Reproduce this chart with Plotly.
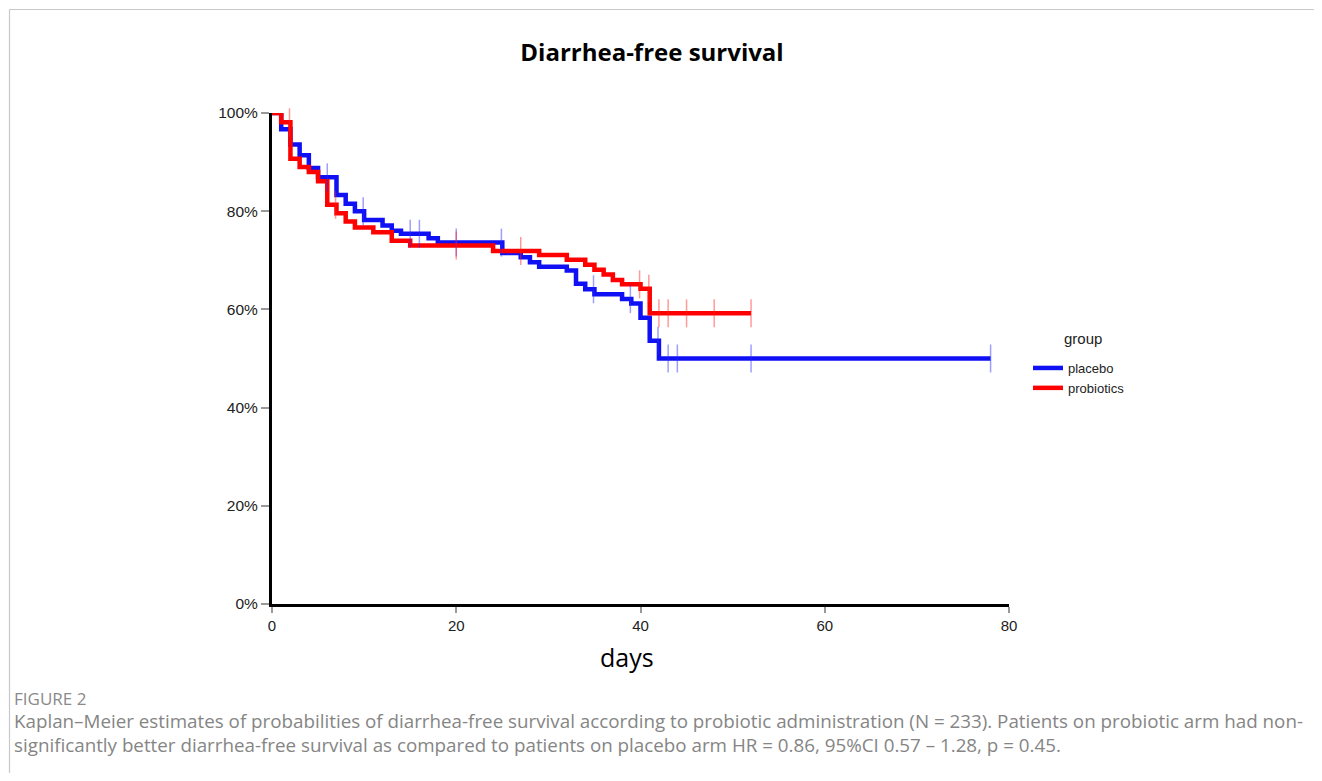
import plotly.graph_objects as go

# ---- data ----
placebo_days = [0, 1, 2, 3, 4, 5, 7, 8, 9, 10, 12, 13, 14, 17, 18, 25, 27, 28, 29,
                32, 33, 34, 35, 38, 39, 40, 41, 42, 78]
placebo_surv = [1.0, 0.967, 0.936, 0.914, 0.888, 0.869, 0.833, 0.815, 0.800, 0.782,
                0.771, 0.760, 0.754, 0.745, 0.736, 0.715, 0.706, 0.696, 0.687, 0.679,
                0.652, 0.641, 0.631, 0.621, 0.612, 0.583, 0.536, 0.500, 0.500]
placebo_censor = [6, 9.9, 15, 16, 20, 24.9, 34.9, 38.9, 41.9, 43, 44, 52, 78]

probiotics_days = [0, 1, 2, 3, 4, 5, 6, 7, 8, 9, 11, 13, 15, 24, 29, 32, 34, 35, 36,
                   37, 38, 40, 41, 52]
probiotics_surv = [1.0, 0.981, 0.907, 0.890, 0.880, 0.861, 0.813, 0.796, 0.779, 0.767,
                   0.757, 0.740, 0.730, 0.719, 0.711, 0.701, 0.691, 0.681, 0.671, 0.660,
                   0.651, 0.642, 0.592, 0.592]
probiotics_censor = [1.9, 6.9, 20, 27, 39.9, 40.9, 42, 43, 45, 48, 52]

x_ticks = [0, 20, 40, 60, 80]
y_ticks = [0, 0.2, 0.4, 0.6, 0.8, 1.0]
y_tick_labels = ["0%", "20%", "40%", "60%", "80%", "100%"]

groups = [
    ("placebo", placebo_days, placebo_surv, placebo_censor, "#1010F5", "rgba(40,40,255,0.45)"),
    ("probiotics", probiotics_days, probiotics_surv, probiotics_censor, "#FF0000", "rgba(255,30,30,0.45)"),
]


def step_value(days, surv, t):
    v = surv[0]
    for d, s in zip(days, surv):
        if d <= t:
            v = s
    return v


fig = go.Figure()
for name, days, surv, cens, col, tcol in groups:
    fig.add_trace(go.Scatter(
        x=days, y=surv, mode="lines", name=name,
        line=dict(color=col, width=4.5, shape="hv"), cliponaxis=False,
    ))
for name, days, surv, cens, col, tcol in groups:
    fig.add_trace(go.Scatter(
        x=cens, y=[step_value(days, surv, t) for t in cens], mode="markers",
        showlegend=False, hoverinfo="skip", cliponaxis=False,
        marker=dict(symbol="line-ns", size=20, line=dict(color=tcol, width=1.5)),
    ))

# page offset of the figure (body margin) and plot area in page pixels
OFF = 8
L, R, T, B = 272 - OFF, 1009 - OFF, 113 - OFF, 604 - OFF
W, H = 1322 - 2 * OFF, 781 - 2 * OFF


def px(xp):
    return (xp - OFF - L) / (R - L)


def py(yp):
    return (B - (yp - OFF)) / (B - T)


caption_font = dict(family="Open Sans", size=18.8, color="#858585")
annotations = [
    dict(text="group", x=px(1083), y=py(338), xref="paper", yref="paper",
         showarrow=False, font=dict(family="Arial", size=15, color="#222"),
         xanchor="center", yanchor="middle"),
    dict(text="days", x=px(627), y=py(657), xref="paper", yref="paper",
         showarrow=False, font=dict(family="Open Sans", size=25, color="black"),
         xanchor="center", yanchor="middle"),
    dict(text="FIGURE 2", x=px(12), y=py(698), xref="paper", yref="paper",
         showarrow=False, font=dict(family="Open Sans", size=17, color="#8a8a8a"),
         xanchor="left", yanchor="middle"),
    dict(text="Kaplan–Meier estimates of probabilities of diarrhea-free survival according to probiotic administration (N = 233). Patients on probiotic arm had non-",
         x=px(12), y=py(721), xref="paper", yref="paper", showarrow=False,
         font=caption_font, xanchor="left", yanchor="middle"),
    dict(text="significantly better diarrhea-free survival as compared to patients on placebo arm HR = 0.86, 95%CI 0.57 – 1.28, p = 0.45.",
         x=px(12), y=py(745), xref="paper", yref="paper", showarrow=False,
         font=caption_font, xanchor="left", yanchor="middle"),
]

shapes = [
    dict(type="line", xref="paper", yref="paper", x0=px(9.5), x1=px(1340), y0=py(9.5), y1=py(9.5),
         line=dict(color="#c8c8c8", width=1.2)),
    dict(type="line", xref="paper", yref="paper", x0=px(9.5), x1=px(9.5), y0=py(9.5), y1=py(800),
         line=dict(color="#c8c8c8", width=1.2)),
]

fig.update_layout(
    width=W, height=H,
    margin=dict(l=L, r=W - R, t=T, b=H - B),
    paper_bgcolor="white", plot_bgcolor="white",
    title=dict(text="<b>Diarrhea-free survival</b>", x=(652 - OFF) / W, xref="container",
               y=1 - (53 - OFF) / H, yref="container", xanchor="center", yanchor="middle",
               font=dict(family="Open Sans", size=24, color="black")),
    xaxis=dict(range=[0, 80], tickvals=x_ticks, showgrid=False, zeroline=False,
               showline=True, linecolor="black", linewidth=3,
               ticks="outside", ticklen=6, tickcolor="#999", tickwidth=1.5,
               tickfont=dict(family="Arial", size=15, color="#222")),
    yaxis=dict(range=[0, 1], tickvals=y_ticks, ticktext=y_tick_labels, showgrid=False,
               zeroline=False, showline=True, linecolor="black", linewidth=3,
               ticks="outside", ticklen=8, tickcolor="#999", tickwidth=1.5,
               tickfont=dict(family="Arial", size=15.5, color="#222")),
    legend=dict(x=px(1028), y=py(353), xanchor="left", yanchor="top",
                font=dict(family="Arial", size=13, color="#222"),
                bgcolor="rgba(0,0,0,0)", tracegroupgap=0, itemwidth=30),
    annotations=annotations, shapes=shapes,
)

fig.write_html("out.html")
